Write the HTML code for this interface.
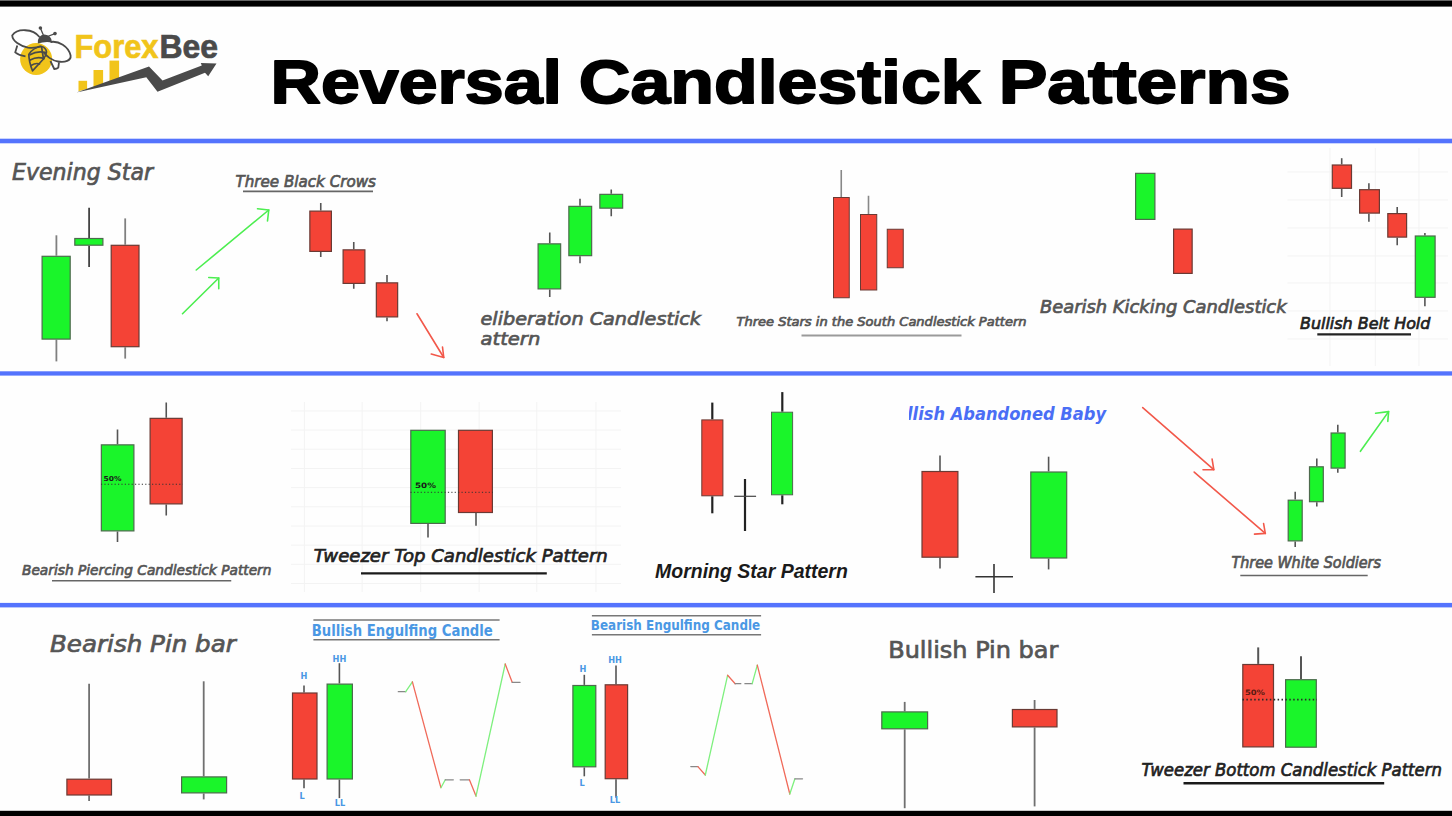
<!DOCTYPE html>
<html><head><meta charset="utf-8"><title>Reversal Candlestick Patterns</title>
<style>
html,body{margin:0;padding:0;background:#fefefe;}
body{width:1452px;height:816px;overflow:hidden;}
svg{display:block;}
.title{font-family:"Liberation Sans",Arial,sans-serif;font-weight:bold;fill:#000;stroke:#000;stroke-width:1.8px;stroke-linejoin:round;}
.lbl{font-family:"DejaVu Sans","Liberation Sans",sans-serif;font-weight:normal;font-style:italic;fill:#555;stroke:#555;stroke-width:0.7px;}
.lbl.dark{fill:#222;stroke:#222;}
.lbl.thin{stroke-width:0.25px;}
.lbl.up{font-style:normal;}
.ms{font-family:"Liberation Sans",Arial,sans-serif;font-weight:bold;font-style:italic;fill:#1a1a1a;}
.blue{font-family:"DejaVu Sans","Liberation Sans",sans-serif;font-weight:bold;font-style:italic;fill:#4a6ef5;}
.eng{font-family:"DejaVu Sans","Liberation Sans",sans-serif;font-weight:bold;fill:#4a98e4;}
.hl{font-family:"DejaVu Sans","Liberation Sans",sans-serif;font-weight:bold;fill:#4a98e4;font-size:8.2px;}
.pct{font-family:"DejaVu Sans","Liberation Sans",sans-serif;font-weight:bold;fill:#1a1a1a;}
</style></head>
<body>
<svg width="1452" height="816" viewBox="0 0 1452 816">
<rect x="0" y="0" width="1452" height="816" fill="#fefefe"/>
<rect x="0" y="0" width="1452" height="6.6" fill="#000"/>
<rect x="0" y="0" width="1452" height="1" fill="#666"/>
<rect x="0" y="810.8" width="1452" height="5.2" fill="#000"/>
<rect x="0" y="138.7" width="1452" height="4.6" fill="#5473fd"/>
<rect x="0" y="371.3" width="1452" height="4.3" fill="#5473fd"/>
<rect x="0" y="602.9" width="1452" height="4.5" fill="#5473fd"/>
<line x1="1287.50" y1="172.00" x2="1448.00" y2="172.00" stroke="#f3f3f3" stroke-width="1" />
<line x1="1287.50" y1="200.00" x2="1448.00" y2="200.00" stroke="#f3f3f3" stroke-width="1" />
<line x1="1287.50" y1="228.00" x2="1448.00" y2="228.00" stroke="#f3f3f3" stroke-width="1" />
<line x1="1287.50" y1="256.00" x2="1448.00" y2="256.00" stroke="#f3f3f3" stroke-width="1" />
<line x1="1287.50" y1="283.00" x2="1448.00" y2="283.00" stroke="#f3f3f3" stroke-width="1" />
<line x1="1287.50" y1="311.00" x2="1448.00" y2="311.00" stroke="#f3f3f3" stroke-width="1" />
<line x1="1287.50" y1="339.00" x2="1448.00" y2="339.00" stroke="#f3f3f3" stroke-width="1" />
<line x1="1330.00" y1="148.00" x2="1330.00" y2="366.00" stroke="#f3f3f3" stroke-width="1" />
<line x1="1375.30" y1="148.00" x2="1375.30" y2="366.00" stroke="#f3f3f3" stroke-width="1" />
<line x1="1419.00" y1="148.00" x2="1419.00" y2="366.00" stroke="#f3f3f3" stroke-width="1" />
<line x1="291.00" y1="410.90" x2="621.00" y2="410.90" stroke="#f3f3f3" stroke-width="1" />
<line x1="291.00" y1="430.08" x2="621.00" y2="430.08" stroke="#f3f3f3" stroke-width="1" />
<line x1="291.00" y1="449.26" x2="621.00" y2="449.26" stroke="#f3f3f3" stroke-width="1" />
<line x1="291.00" y1="468.44" x2="621.00" y2="468.44" stroke="#f3f3f3" stroke-width="1" />
<line x1="291.00" y1="487.62" x2="621.00" y2="487.62" stroke="#f3f3f3" stroke-width="1" />
<line x1="291.00" y1="506.80" x2="621.00" y2="506.80" stroke="#f3f3f3" stroke-width="1" />
<line x1="291.00" y1="525.98" x2="621.00" y2="525.98" stroke="#f3f3f3" stroke-width="1" />
<line x1="291.00" y1="545.16" x2="621.00" y2="545.16" stroke="#f3f3f3" stroke-width="1" />
<line x1="291.00" y1="564.34" x2="621.00" y2="564.34" stroke="#f3f3f3" stroke-width="1" />
<line x1="291.00" y1="583.52" x2="621.00" y2="583.52" stroke="#f3f3f3" stroke-width="1" />
<line x1="304.40" y1="402.00" x2="304.40" y2="592.00" stroke="#f3f3f3" stroke-width="1" />
<line x1="362.20" y1="402.00" x2="362.20" y2="592.00" stroke="#f3f3f3" stroke-width="1" />
<line x1="420.70" y1="402.00" x2="420.70" y2="592.00" stroke="#f3f3f3" stroke-width="1" />
<line x1="479.20" y1="402.00" x2="479.20" y2="592.00" stroke="#f3f3f3" stroke-width="1" />
<line x1="536.80" y1="402.00" x2="536.80" y2="592.00" stroke="#f3f3f3" stroke-width="1" />
<line x1="596.00" y1="402.00" x2="596.00" y2="592.00" stroke="#f3f3f3" stroke-width="1" />
<circle cx="36.1" cy="59" r="16" fill="#f1c41a"/>
<path d="M28.8,54.5 Q33,47.5 41.5,46.5 Q46,47.5 46.5,52 Q46,56 43,59.5 L32.5,70.8 Q29,62 28.8,54.5 Z" fill="#f1c41a" stroke="#4a4a4a" stroke-width="1.7" stroke-linejoin="round"/>
<g stroke="#4a4a4a" stroke-width="1.7" fill="none" stroke-linecap="round">
<path d="M30,54.8 Q37,50.5 45.5,52.5"/>
<path d="M30.2,60 Q37,56 44,58.5"/>
<path d="M31,65.5 Q36,62.5 39.5,64"/>
<path d="M41.5,46.5 L43.5,59"/>
</g>
<g stroke="#4a4a4a" stroke-width="1.8" fill="none" stroke-linejoin="round">
<path d="M39.5,37 C33,28.5 17,28 12.2,35.5 C12.5,41 20,46 28,47.6 C33,48.3 37.5,47.5 41,46"/>
<path d="M50.5,42 C58.5,40.5 68.5,46.5 70.6,55.5 C71.3,60.5 65,62.8 58,61.5 C52,60.5 46,56 43.5,52"/>
<path d="M17.3,45.5 L15.2,52.4 Q19,55.5 25.5,56.4"/>
<path d="M50.4,61 L54.3,69 Q57,69 58.3,67.7 L59,62.4"/>
</g>
<path d="M37.8,43.6 Q37.5,35 44.5,34.6 Q51.5,35 52,42.5 Q45,41.2 37.8,43.6 z" fill="#4a4a4a"/>
<line x1="43.5" y1="35.5" x2="40.4" y2="28" stroke="#4a4a4a" stroke-width="1.3"/>
<line x1="47.5" y1="36.5" x2="55" y2="33.6" stroke="#4a4a4a" stroke-width="1.3"/>
<circle cx="40.4" cy="28" r="1.8" fill="#4a4a4a"/>
<circle cx="55" cy="33.6" r="1.8" fill="#4a4a4a"/>
<rect x="78.5" y="80.8" width="8.6" height="12" fill="#f1c41a"/>
<rect x="93.5" y="70" width="9.6" height="20" fill="#f1c41a"/>
<rect x="109.5" y="60.6" width="9.6" height="25" fill="#f1c41a"/>
<polygon points="70,93.5 150,72 150,100 70,100" fill="#fefefe"/>
<polygon points="76.4,92.6 149,66.5 162.5,80.5 201.8,65.4 200.8,63 216.5,63.5 208.2,76.2 205,72.8 157.5,91.8 146.3,77.3" fill="#4a4a4a"/>
<text x="74.5" y="58.4" font-family="Liberation Sans, sans-serif" font-weight="bold" font-size="34" textLength="84" lengthAdjust="spacingAndGlyphs" fill="#f1c41a" stroke="#f1c41a" stroke-width="0.7">Forex</text>
<text x="159.5" y="58.4" font-family="Liberation Sans, sans-serif" font-weight="bold" font-size="34" textLength="58.5" lengthAdjust="spacingAndGlyphs" fill="#4a4a4a" stroke="#4a4a4a" stroke-width="0.7">Bee</text>
<text x="270.50" y="102.5" class="title" font-size="61.5" textLength="291.50" lengthAdjust="spacingAndGlyphs">Reversal</text>
<text x="578.80" y="102.5" class="title" font-size="61.5" textLength="401.70" lengthAdjust="spacingAndGlyphs">Candlestick</text>
<text x="998.70" y="102.5" class="title" font-size="61.5" textLength="291.90" lengthAdjust="spacingAndGlyphs">Patterns</text>
<text x="12.00" y="179.80" class="lbl" font-size="22.8" textLength="141.00" lengthAdjust="spacingAndGlyphs" stroke-width="1.09">Evening Star</text>
<line x1="56.40" y1="235.30" x2="56.40" y2="255.70" stroke="#808080" stroke-width="1.8"/>
<line x1="56.40" y1="339.70" x2="56.40" y2="361.40" stroke="#808080" stroke-width="1.8"/>
<rect x="42.10" y="256.30" width="28.10" height="82.80" fill="#1af52a" stroke="#4d6a4d" stroke-width="1.2"/>
<line x1="89.10" y1="207.70" x2="89.10" y2="237.90" stroke="#444" stroke-width="1.8"/>
<line x1="89.10" y1="245.80" x2="89.10" y2="267.00" stroke="#444" stroke-width="1.8"/>
<rect x="74.80" y="238.50" width="28.10" height="6.70" fill="#1af52a" stroke="#4d6a4d" stroke-width="1.2"/>
<line x1="125.20" y1="218.40" x2="125.20" y2="244.70" stroke="#808080" stroke-width="1.8"/>
<line x1="125.20" y1="347.30" x2="125.20" y2="358.60" stroke="#808080" stroke-width="1.8"/>
<rect x="111.20" y="245.30" width="27.80" height="101.40" fill="#f44336" stroke="#6a3a34" stroke-width="1.2"/>
<polyline points="196.25,270 268.75,210" fill="none" stroke="#4cee50" stroke-width="1.6" stroke-linecap="round"/>
<polyline points="257.5,208.75 268.75,210 267.5,221" fill="none" stroke="#4cee50" stroke-width="1.6" stroke-linecap="round" stroke-linejoin="round"/>
<polyline points="182.5,313.75 218.75,278" fill="none" stroke="#4cee50" stroke-width="1.6" stroke-linecap="round"/>
<polyline points="208.75,277.5 218.75,278 218.75,288.75" fill="none" stroke="#4cee50" stroke-width="1.6" stroke-linecap="round" stroke-linejoin="round"/>
<text x="235.45" y="187.00" class="lbl" font-size="16" textLength="140.55" lengthAdjust="spacingAndGlyphs" stroke-width="0.77">Three Black Crows</text>
<line x1="243.00" y1="191.40" x2="373.00" y2="191.40" stroke="#666" stroke-width="1.6" />
<line x1="320.75" y1="203.00" x2="320.75" y2="210.50" stroke="#555" stroke-width="1.6"/>
<line x1="320.75" y1="252.00" x2="320.75" y2="257.00" stroke="#555" stroke-width="1.6"/>
<rect x="309.85" y="211.10" width="21.55" height="40.30" fill="#f44336" stroke="#6a3a34" stroke-width="1.2"/>
<line x1="353.75" y1="242.00" x2="353.75" y2="249.25" stroke="#555" stroke-width="1.6"/>
<line x1="353.75" y1="284.00" x2="353.75" y2="288.75" stroke="#555" stroke-width="1.6"/>
<rect x="343.10" y="249.85" width="21.80" height="33.55" fill="#f44336" stroke="#6a3a34" stroke-width="1.2"/>
<line x1="387.00" y1="275.00" x2="387.00" y2="282.25" stroke="#555" stroke-width="1.6"/>
<line x1="387.00" y1="317.50" x2="387.00" y2="321.25" stroke="#555" stroke-width="1.6"/>
<rect x="376.35" y="282.85" width="21.30" height="34.05" fill="#f44336" stroke="#6a3a34" stroke-width="1.2"/>
<polyline points="417,313.75 443.75,357.5" fill="none" stroke="#f2584a" stroke-width="1.6" stroke-linecap="round"/>
<polyline points="442.5,347 443.75,357.5 431.25,354" fill="none" stroke="#f2584a" stroke-width="1.6" stroke-linecap="round" stroke-linejoin="round"/>
<line x1="549.75" y1="232.50" x2="549.75" y2="243.25" stroke="#555" stroke-width="1.6"/>
<line x1="549.75" y1="289.50" x2="549.75" y2="297.00" stroke="#555" stroke-width="1.6"/>
<rect x="538.10" y="243.85" width="22.55" height="45.05" fill="#1af52a" stroke="#4d6a4d" stroke-width="1.2"/>
<line x1="580.00" y1="198.75" x2="580.00" y2="205.75" stroke="#555" stroke-width="1.6"/>
<line x1="580.00" y1="256.25" x2="580.00" y2="263.25" stroke="#555" stroke-width="1.6"/>
<rect x="568.85" y="206.35" width="22.80" height="49.30" fill="#1af52a" stroke="#4d6a4d" stroke-width="1.2"/>
<line x1="611.25" y1="189.50" x2="611.25" y2="193.75" stroke="#555" stroke-width="1.6"/>
<line x1="611.25" y1="208.75" x2="611.25" y2="216.25" stroke="#555" stroke-width="1.6"/>
<rect x="599.85" y="194.35" width="22.80" height="13.80" fill="#1af52a" stroke="#4d6a4d" stroke-width="1.2"/>
<text x="480.55" y="325.00" class="lbl" font-size="18.5" textLength="220.45" lengthAdjust="spacingAndGlyphs" stroke-width="0.89">eliberation Candlestick</text>
<text x="480.55" y="344.50" class="lbl" font-size="18.5" textLength="59.75" lengthAdjust="spacingAndGlyphs" stroke-width="0.89">attern</text>
<line x1="841.25" y1="170.00" x2="841.25" y2="197.00" stroke="#888" stroke-width="1.6"/>
<rect x="833.50" y="197.50" width="15.75" height="100.25" fill="#f44336" stroke="#6a3a34" stroke-width="1"/>
<line x1="868.50" y1="195.75" x2="868.50" y2="214.00" stroke="#888" stroke-width="1.6"/>
<rect x="860.50" y="214.50" width="16.25" height="75.50" fill="#f44336" stroke="#6a3a34" stroke-width="1"/>
<rect x="887.25" y="229.25" width="16.00" height="38.50" fill="#f44336" stroke="#6a3a34" stroke-width="1"/>
<text x="736.45" y="326.25" class="lbl" font-size="13" textLength="290.10" lengthAdjust="spacingAndGlyphs" stroke-width="0.12">Three Stars in the South Candlestick Pattern</text>
<line x1="801.50" y1="335.60" x2="961.50" y2="335.60" stroke="#9a9a9a" stroke-width="2.0" />
<rect x="1135.60" y="173.35" width="19.30" height="46.05" fill="#1af52a" stroke="#4d6a4d" stroke-width="1.2"/>
<rect x="1173.60" y="229.10" width="18.55" height="44.30" fill="#f44336" stroke="#6a3a34" stroke-width="1.2"/>
<text x="1040.00" y="312.50" class="lbl" font-size="18" textLength="246.55" lengthAdjust="spacingAndGlyphs" stroke-width="0.86">Bearish Kicking Candlestick</text>
<line x1="1341.70" y1="158.20" x2="1341.70" y2="164.40" stroke="#555" stroke-width="1.6"/>
<line x1="1341.70" y1="188.90" x2="1341.70" y2="197.00" stroke="#555" stroke-width="1.6"/>
<rect x="1332.30" y="165.00" width="19.20" height="23.30" fill="#f44336" stroke="#6a3a34" stroke-width="1.2"/>
<line x1="1368.90" y1="183.20" x2="1368.90" y2="189.10" stroke="#555" stroke-width="1.6"/>
<line x1="1368.90" y1="213.70" x2="1368.90" y2="221.70" stroke="#555" stroke-width="1.6"/>
<rect x="1359.60" y="189.70" width="19.80" height="23.40" fill="#f44336" stroke="#6a3a34" stroke-width="1.2"/>
<line x1="1397.20" y1="207.00" x2="1397.20" y2="213.00" stroke="#555" stroke-width="1.6"/>
<line x1="1397.20" y1="237.70" x2="1397.20" y2="245.30" stroke="#555" stroke-width="1.6"/>
<rect x="1387.80" y="213.60" width="18.80" height="23.50" fill="#f44336" stroke="#6a3a34" stroke-width="1.2"/>
<line x1="1424.90" y1="233.00" x2="1424.90" y2="235.40" stroke="#555" stroke-width="1.6"/>
<line x1="1424.90" y1="297.90" x2="1424.90" y2="306.20" stroke="#555" stroke-width="1.6"/>
<rect x="1415.30" y="236.00" width="19.80" height="61.30" fill="#1af52a" stroke="#4d6a4d" stroke-width="1.2"/>
<text x="1300.00" y="329.20" class="lbl dark" font-size="16" textLength="130.40" lengthAdjust="spacingAndGlyphs" stroke-width="0.77">Bullish Belt Hold</text>
<line x1="1317.30" y1="334.40" x2="1411.00" y2="334.40" stroke="#222" stroke-width="2.2" />
<line x1="117.50" y1="429.50" x2="117.50" y2="444.25" stroke="#555" stroke-width="1.6"/>
<line x1="117.50" y1="531.50" x2="117.50" y2="542.00" stroke="#555" stroke-width="1.6"/>
<rect x="101.35" y="444.85" width="32.55" height="86.05" fill="#1af52a" stroke="#4d6a4d" stroke-width="1.2"/>
<line x1="166.25" y1="402.50" x2="166.25" y2="417.75" stroke="#555" stroke-width="1.6"/>
<line x1="166.25" y1="504.50" x2="166.25" y2="515.50" stroke="#555" stroke-width="1.6"/>
<rect x="150.10" y="418.35" width="32.05" height="85.55" fill="#f44336" stroke="#6a3a34" stroke-width="1.2"/>
<line x1="101.00" y1="484.25" x2="182.75" y2="484.25" stroke="#333" stroke-width="1" stroke-dasharray="1.2 2.2"/>
<text x="103.6" y="480.6" class="pct" font-size="6.8" textLength="18" lengthAdjust="spacingAndGlyphs">50%</text>
<text x="22.00" y="575.00" class="lbl" font-size="14" textLength="249.45" lengthAdjust="spacingAndGlyphs" stroke-width="0.67">Bearish Piercing Candlestick Pattern</text>
<line x1="52.00" y1="580.75" x2="231.25" y2="580.75" stroke="#666" stroke-width="1.6" />
<line x1="428.00" y1="524.00" x2="428.00" y2="537.50" stroke="#555" stroke-width="1.6"/>
<rect x="410.80" y="430.30" width="34.40" height="93.10" fill="#1af52a" stroke="#4d6a4d" stroke-width="1.2"/>
<line x1="476.00" y1="513.10" x2="476.00" y2="525.70" stroke="#555" stroke-width="1.6"/>
<rect x="458.50" y="430.30" width="33.90" height="82.20" fill="#f44336" stroke="#6a3a34" stroke-width="1.2"/>
<line x1="410.50" y1="492.30" x2="493.00" y2="492.30" stroke="#333" stroke-width="1" stroke-dasharray="1.2 2.2"/>
<text x="415" y="487.9" class="pct" font-size="7.4" textLength="21" lengthAdjust="spacingAndGlyphs">50%</text>
<text x="313.80" y="562.10" class="lbl dark" font-size="17.4" textLength="294.00" lengthAdjust="spacingAndGlyphs" stroke-width="0.84">Tweezer Top Candlestick Pattern</text>
<line x1="361.00" y1="573.40" x2="546.80" y2="573.40" stroke="#1a1a1a" stroke-width="2.4" />
<line x1="712.30" y1="402.60" x2="712.30" y2="419.40" stroke="#222" stroke-width="2.2"/>
<line x1="712.30" y1="496.30" x2="712.30" y2="513.30" stroke="#222" stroke-width="2.2"/>
<rect x="701.80" y="419.90" width="21.10" height="75.90" fill="#f44336" stroke="#6a3a34" stroke-width="1"/>
<line x1="745.00" y1="479.00" x2="745.00" y2="531.00" stroke="#222" stroke-width="2.2" />
<line x1="734.20" y1="496.30" x2="756.10" y2="496.30" stroke="#444" stroke-width="1.2" />
<line x1="782.30" y1="392.10" x2="782.30" y2="411.70" stroke="#222" stroke-width="2.2"/>
<line x1="782.30" y1="495.30" x2="782.30" y2="504.30" stroke="#222" stroke-width="2.2"/>
<rect x="771.50" y="412.20" width="21.10" height="82.60" fill="#1af52a" stroke="#4d6a4d" stroke-width="1"/>
<text x="655.00" y="577.60" class="ms" font-size="20" textLength="192.80" lengthAdjust="spacingAndGlyphs">Morning Star Pattern</text>
<defs><clipPath id="cpab"><rect x="909" y="395" width="220" height="35"/></clipPath></defs>
<text x="883" y="420" class="blue" font-size="17.3" textLength="223" lengthAdjust="spacingAndGlyphs" clip-path="url(#cpab)">Bullish Abandoned Baby</text>
<line x1="940.00" y1="455.60" x2="940.00" y2="470.90" stroke="#555" stroke-width="1.6"/>
<line x1="940.00" y1="557.80" x2="940.00" y2="568.60" stroke="#555" stroke-width="1.6"/>
<rect x="922.00" y="471.50" width="35.90" height="85.70" fill="#f44336" stroke="#6a3a34" stroke-width="1.2"/>
<line x1="1048.60" y1="456.70" x2="1048.60" y2="471.40" stroke="#555" stroke-width="1.6"/>
<line x1="1048.60" y1="558.60" x2="1048.60" y2="569.40" stroke="#555" stroke-width="1.6"/>
<rect x="1030.80" y="472.00" width="35.90" height="86.00" fill="#1af52a" stroke="#4d6a4d" stroke-width="1.2"/>
<line x1="994.00" y1="564.10" x2="994.00" y2="593.10" stroke="#333" stroke-width="1.6" />
<line x1="975.40" y1="576.80" x2="1013.00" y2="576.80" stroke="#333" stroke-width="1.6" />
<polyline points="1142.7,407.6 1213.8,469.7" fill="none" stroke="#f2584a" stroke-width="1.6" stroke-linecap="round"/>
<polyline points="1212.1,459.1 1213.8,469.7 1203,469.7" fill="none" stroke="#f2584a" stroke-width="1.6" stroke-linecap="round" stroke-linejoin="round"/>
<polyline points="1194.2,472.1 1265.3,533.4" fill="none" stroke="#f2584a" stroke-width="1.6" stroke-linecap="round"/>
<polyline points="1263.6,523.6 1265.3,533.4 1254.5,534.1" fill="none" stroke="#f2584a" stroke-width="1.6" stroke-linecap="round" stroke-linejoin="round"/>
<polyline points="1360.4,451.3 1388.6,411.6" fill="none" stroke="#4cee50" stroke-width="1.6" stroke-linecap="round"/>
<polyline points="1375.6,413.3 1388.6,411.6 1387.8,421.4" fill="none" stroke="#4cee50" stroke-width="1.6" stroke-linecap="round" stroke-linejoin="round"/>
<line x1="1295.20" y1="491.70" x2="1295.20" y2="499.60" stroke="#555" stroke-width="1.6"/>
<line x1="1295.20" y1="541.50" x2="1295.20" y2="546.90" stroke="#555" stroke-width="1.6"/>
<rect x="1288.20" y="500.20" width="14.00" height="40.70" fill="#1af52a" stroke="#4d6a4d" stroke-width="1.2"/>
<line x1="1316.80" y1="458.60" x2="1316.80" y2="466.20" stroke="#555" stroke-width="1.6"/>
<line x1="1316.80" y1="502.30" x2="1316.80" y2="506.40" stroke="#555" stroke-width="1.6"/>
<rect x="1309.50" y="466.80" width="13.80" height="34.90" fill="#1af52a" stroke="#4d6a4d" stroke-width="1.2"/>
<line x1="1337.80" y1="424.80" x2="1337.80" y2="432.40" stroke="#555" stroke-width="1.6"/>
<line x1="1337.80" y1="468.70" x2="1337.80" y2="472.80" stroke="#555" stroke-width="1.6"/>
<rect x="1331.10" y="433.00" width="14.00" height="35.10" fill="#1af52a" stroke="#4d6a4d" stroke-width="1.2"/>
<text x="1231.40" y="567.70" class="lbl" font-size="15" textLength="149.60" lengthAdjust="spacingAndGlyphs" stroke-width="0.72">Three White Soldiers</text>
<line x1="1240.30" y1="575.50" x2="1367.70" y2="575.50" stroke="#666" stroke-width="1.6" />
<text x="50.00" y="651.60" class="lbl" font-size="23" textLength="185.80" lengthAdjust="spacingAndGlyphs" stroke-width="1.10">Bearish Pin bar</text>
<line x1="89.10" y1="683.80" x2="89.10" y2="778.60" stroke="#707070" stroke-width="1.8"/>
<line x1="89.10" y1="795.60" x2="89.10" y2="801.10" stroke="#707070" stroke-width="1.8"/>
<rect x="66.90" y="779.20" width="44.60" height="15.80" fill="#f44336" stroke="#6a3a34" stroke-width="1.2"/>
<line x1="203.70" y1="681.30" x2="203.70" y2="776.30" stroke="#707070" stroke-width="1.8"/>
<line x1="203.70" y1="793.50" x2="203.70" y2="799.40" stroke="#707070" stroke-width="1.8"/>
<rect x="181.60" y="776.90" width="45.00" height="16.00" fill="#1af52a" stroke="#4d6a4d" stroke-width="1.2"/>
<line x1="313.40" y1="619.90" x2="499.60" y2="619.90" stroke="#777" stroke-width="1.5" />
<line x1="313.40" y1="639.70" x2="499.60" y2="639.70" stroke="#777" stroke-width="1.5" />
<text x="311.80" y="635.50" class="eng" font-size="15" textLength="181.00" lengthAdjust="spacingAndGlyphs">Bullish Engulfing Candle</text>
<line x1="304.00" y1="685.50" x2="304.00" y2="692.40" stroke="#555" stroke-width="1.6"/>
<line x1="304.00" y1="779.60" x2="304.00" y2="788.20" stroke="#555" stroke-width="1.6"/>
<rect x="292.50" y="693.00" width="24.50" height="86.00" fill="#f44336" stroke="#6a3a34" stroke-width="1.2"/>
<line x1="339.40" y1="663.20" x2="339.40" y2="683.50" stroke="#555" stroke-width="1.6"/>
<line x1="339.40" y1="779.60" x2="339.40" y2="798.10" stroke="#555" stroke-width="1.6"/>
<rect x="327.10" y="684.10" width="25.30" height="94.90" fill="#1af52a" stroke="#4d6a4d" stroke-width="1.2"/>
<text x="304" y="678.8" class="hl" text-anchor="middle">H</text>
<text x="302" y="799.4" class="hl" text-anchor="middle">L</text>
<text x="339.4" y="661.5" class="hl" text-anchor="middle">HH</text>
<text x="340" y="806" class="hl" text-anchor="middle">LL</text>
<line x1="398.30" y1="691.70" x2="405.70" y2="691.70" stroke="#888" stroke-width="1.3" stroke-linecap="round"/>
<line x1="405.70" y1="691.70" x2="412.40" y2="681.80" stroke="#7ef07e" stroke-width="1.3" stroke-linecap="round"/>
<line x1="412.40" y1="681.80" x2="440.90" y2="787.70" stroke="#f06a5a" stroke-width="1.3" stroke-linecap="round"/>
<line x1="440.90" y1="787.70" x2="445.30" y2="779.80" stroke="#7ef07e" stroke-width="1.3" stroke-linecap="round"/>
<line x1="445.30" y1="779.80" x2="453.30" y2="779.80" stroke="#888" stroke-width="1.3" stroke-linecap="round"/>
<line x1="460.20" y1="779.80" x2="469.40" y2="779.80" stroke="#888" stroke-width="1.3" stroke-linecap="round"/>
<line x1="469.40" y1="779.80" x2="476.00" y2="796.10" stroke="#f06a5a" stroke-width="1.3" stroke-linecap="round"/>
<line x1="476.00" y1="796.10" x2="505.20" y2="664.00" stroke="#7ef07e" stroke-width="1.3" stroke-linecap="round"/>
<line x1="505.20" y1="664.00" x2="512.20" y2="682.30" stroke="#f06a5a" stroke-width="1.3" stroke-linecap="round"/>
<line x1="512.20" y1="682.30" x2="520.10" y2="682.30" stroke="#888" stroke-width="1.3" stroke-linecap="round"/>
<line x1="591.90" y1="615.70" x2="761.10" y2="615.70" stroke="#777" stroke-width="1.5" />
<line x1="591.90" y1="634.70" x2="761.10" y2="634.70" stroke="#777" stroke-width="1.5" />
<text x="590.80" y="630.40" class="eng" font-size="14.5" textLength="169.40" lengthAdjust="spacingAndGlyphs">Bearish Engulfing Candle</text>
<line x1="584.30" y1="674.80" x2="584.30" y2="684.90" stroke="#555" stroke-width="1.6"/>
<line x1="584.30" y1="767.40" x2="584.30" y2="776.30" stroke="#555" stroke-width="1.6"/>
<rect x="572.90" y="685.50" width="22.90" height="81.30" fill="#1af52a" stroke="#4d6a4d" stroke-width="1.2"/>
<line x1="616.00" y1="665.40" x2="616.00" y2="684.20" stroke="#555" stroke-width="1.6"/>
<line x1="616.00" y1="779.30" x2="616.00" y2="797.80" stroke="#555" stroke-width="1.6"/>
<rect x="605.20" y="684.80" width="22.40" height="93.90" fill="#f44336" stroke="#6a3a34" stroke-width="1.2"/>
<text x="583" y="671.5" class="hl" text-anchor="middle">H</text>
<text x="582" y="786.4" class="hl" text-anchor="middle">L</text>
<text x="615" y="662.9" class="hl" text-anchor="middle">HH</text>
<text x="615" y="803" class="hl" text-anchor="middle">LL</text>
<line x1="690.80" y1="766.60" x2="697.90" y2="766.60" stroke="#888" stroke-width="1.3" stroke-linecap="round"/>
<line x1="697.90" y1="766.60" x2="705.30" y2="775.00" stroke="#f06a5a" stroke-width="1.3" stroke-linecap="round"/>
<line x1="705.30" y1="775.00" x2="727.60" y2="675.30" stroke="#7ef07e" stroke-width="1.3" stroke-linecap="round"/>
<line x1="727.60" y1="675.30" x2="735.20" y2="683.70" stroke="#f06a5a" stroke-width="1.3" stroke-linecap="round"/>
<line x1="735.20" y1="683.70" x2="740.80" y2="683.70" stroke="#888" stroke-width="1.3" stroke-linecap="round"/>
<line x1="744.90" y1="683.70" x2="752.20" y2="683.70" stroke="#888" stroke-width="1.3" stroke-linecap="round"/>
<line x1="752.20" y1="683.70" x2="757.30" y2="665.10" stroke="#7ef07e" stroke-width="1.3" stroke-linecap="round"/>
<line x1="757.30" y1="665.10" x2="789.80" y2="794.00" stroke="#f06a5a" stroke-width="1.3" stroke-linecap="round"/>
<line x1="789.80" y1="794.00" x2="794.90" y2="778.80" stroke="#7ef07e" stroke-width="1.3" stroke-linecap="round"/>
<line x1="794.90" y1="778.80" x2="802.50" y2="778.80" stroke="#888" stroke-width="1.3" stroke-linecap="round"/>
<text x="888.20" y="658.40" class="lbl up" font-size="23" textLength="170.20" lengthAdjust="spacingAndGlyphs" stroke-width="1.10">Bullish Pin bar</text>
<line x1="904.70" y1="701.90" x2="904.70" y2="711.30" stroke="#707070" stroke-width="1.8"/>
<line x1="904.70" y1="729.40" x2="904.70" y2="808.20" stroke="#707070" stroke-width="1.8"/>
<rect x="881.80" y="711.90" width="45.80" height="16.90" fill="#1af52a" stroke="#4d6a4d" stroke-width="1.2"/>
<line x1="1034.60" y1="700.00" x2="1034.60" y2="708.90" stroke="#707070" stroke-width="1.8"/>
<line x1="1034.60" y1="727.50" x2="1034.60" y2="806.40" stroke="#707070" stroke-width="1.8"/>
<rect x="1012.40" y="709.50" width="44.60" height="17.40" fill="#f44336" stroke="#6a3a34" stroke-width="1.2"/>
<line x1="1258.20" y1="647.40" x2="1258.20" y2="663.90" stroke="#555" stroke-width="2"/>
<rect x="1242.80" y="664.50" width="30.70" height="82.40" fill="#f44336" stroke="#6a3a34" stroke-width="1.2"/>
<line x1="1301.00" y1="656.30" x2="1301.00" y2="679.10" stroke="#555" stroke-width="2"/>
<rect x="1285.60" y="679.70" width="30.70" height="67.50" fill="#1af52a" stroke="#4d6a4d" stroke-width="1.2"/>
<line x1="1242.50" y1="699.60" x2="1317.00" y2="699.60" stroke="#2a2a2a" stroke-width="1.6" stroke-dasharray="1.5 2.4"/>
<text x="1244.9" y="695.3" class="pct" font-size="7.4" textLength="20" lengthAdjust="spacingAndGlyphs" style="fill:#5a1a12">50%</text>
<text x="1141.60" y="776.10" class="lbl dark" font-size="17.5" textLength="300.40" lengthAdjust="spacingAndGlyphs" stroke-width="0.84">Tweezer Bottom Candlestick Pattern</text>
<line x1="1183.50" y1="783.20" x2="1384.20" y2="783.20" stroke="#1a1a1a" stroke-width="2.4" />
</svg>
</body></html>
